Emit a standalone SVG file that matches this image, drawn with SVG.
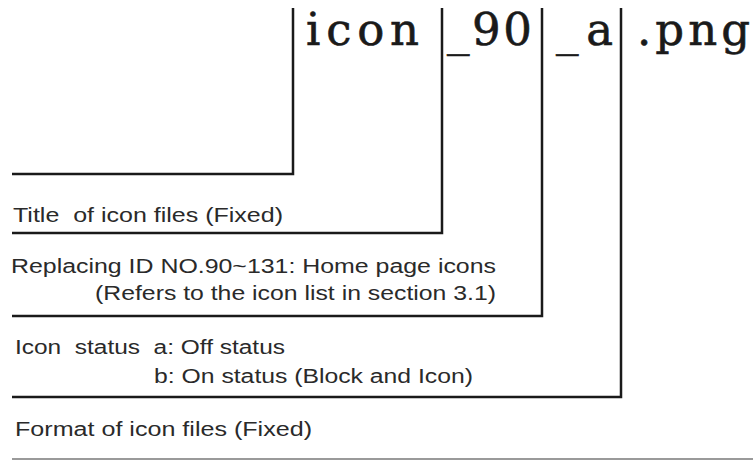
<svg xmlns="http://www.w3.org/2000/svg" width="753" height="460" viewBox="0 0 753 460">
<style>
.fn{font-family:"DejaVu Serif","Liberation Serif",serif;font-size:45px;fill:#1a1a1a;stroke:#1a1a1a;stroke-width:0.6}
.lb{font-family:"Liberation Sans",Arial,sans-serif;font-size:20px;fill:#2a2a2a;white-space:pre}
.ln{fill:none;stroke:#1a1a1a;stroke-width:2.5}
</style>
<rect width="753" height="460" fill="#fff"/>
<g id="filename">
<text class="fn" x="306" y="45" textLength="113" lengthAdjust="spacing">icon</text>
<text class="fn" x="447" y="45" textLength="85" lengthAdjust="spacing">_90</text>
<text class="fn" x="556" y="45" textLength="57" lengthAdjust="spacing">_a</text>
<text class="fn" x="637" y="45" textLength="113" lengthAdjust="spacing">.png</text>
</g>
<g id="connectors">
<polyline class="ln" points="293,8 293,174 12,174"/>
<polyline class="ln" points="442,8 442,233 12,233"/>
<polyline class="ln" points="542,8 542,316 12,316"/>
<polyline class="ln" points="621,8 621,397 12,397"/>
<line x1="12" y1="459" x2="753" y2="459" stroke="#9a9a9a" stroke-width="2"/>
</g>
<g id="title">
<text class="lb" x="13" y="222" textLength="270" lengthAdjust="spacingAndGlyphs" xml:space="preserve">Title  of icon files (Fixed)</text>
</g>
<g id="replacing">
<text class="lb" x="11" y="273" textLength="485" lengthAdjust="spacingAndGlyphs">Replacing ID NO.90~131: Home page icons</text>
<text class="lb" x="95" y="300" textLength="401" lengthAdjust="spacingAndGlyphs">(Refers to the icon list in section 3.1)</text>
</g>
<g id="status">
<text class="lb" x="15" y="354" textLength="270" lengthAdjust="spacingAndGlyphs" xml:space="preserve">Icon  status  a: Off status</text>
<text class="lb" x="154" y="383" textLength="319" lengthAdjust="spacingAndGlyphs">b: On status (Block and Icon)</text>
</g>
<g id="format">
<text class="lb" x="15" y="436" textLength="297" lengthAdjust="spacingAndGlyphs">Format of icon files (Fixed)</text>
</g>
</svg>
